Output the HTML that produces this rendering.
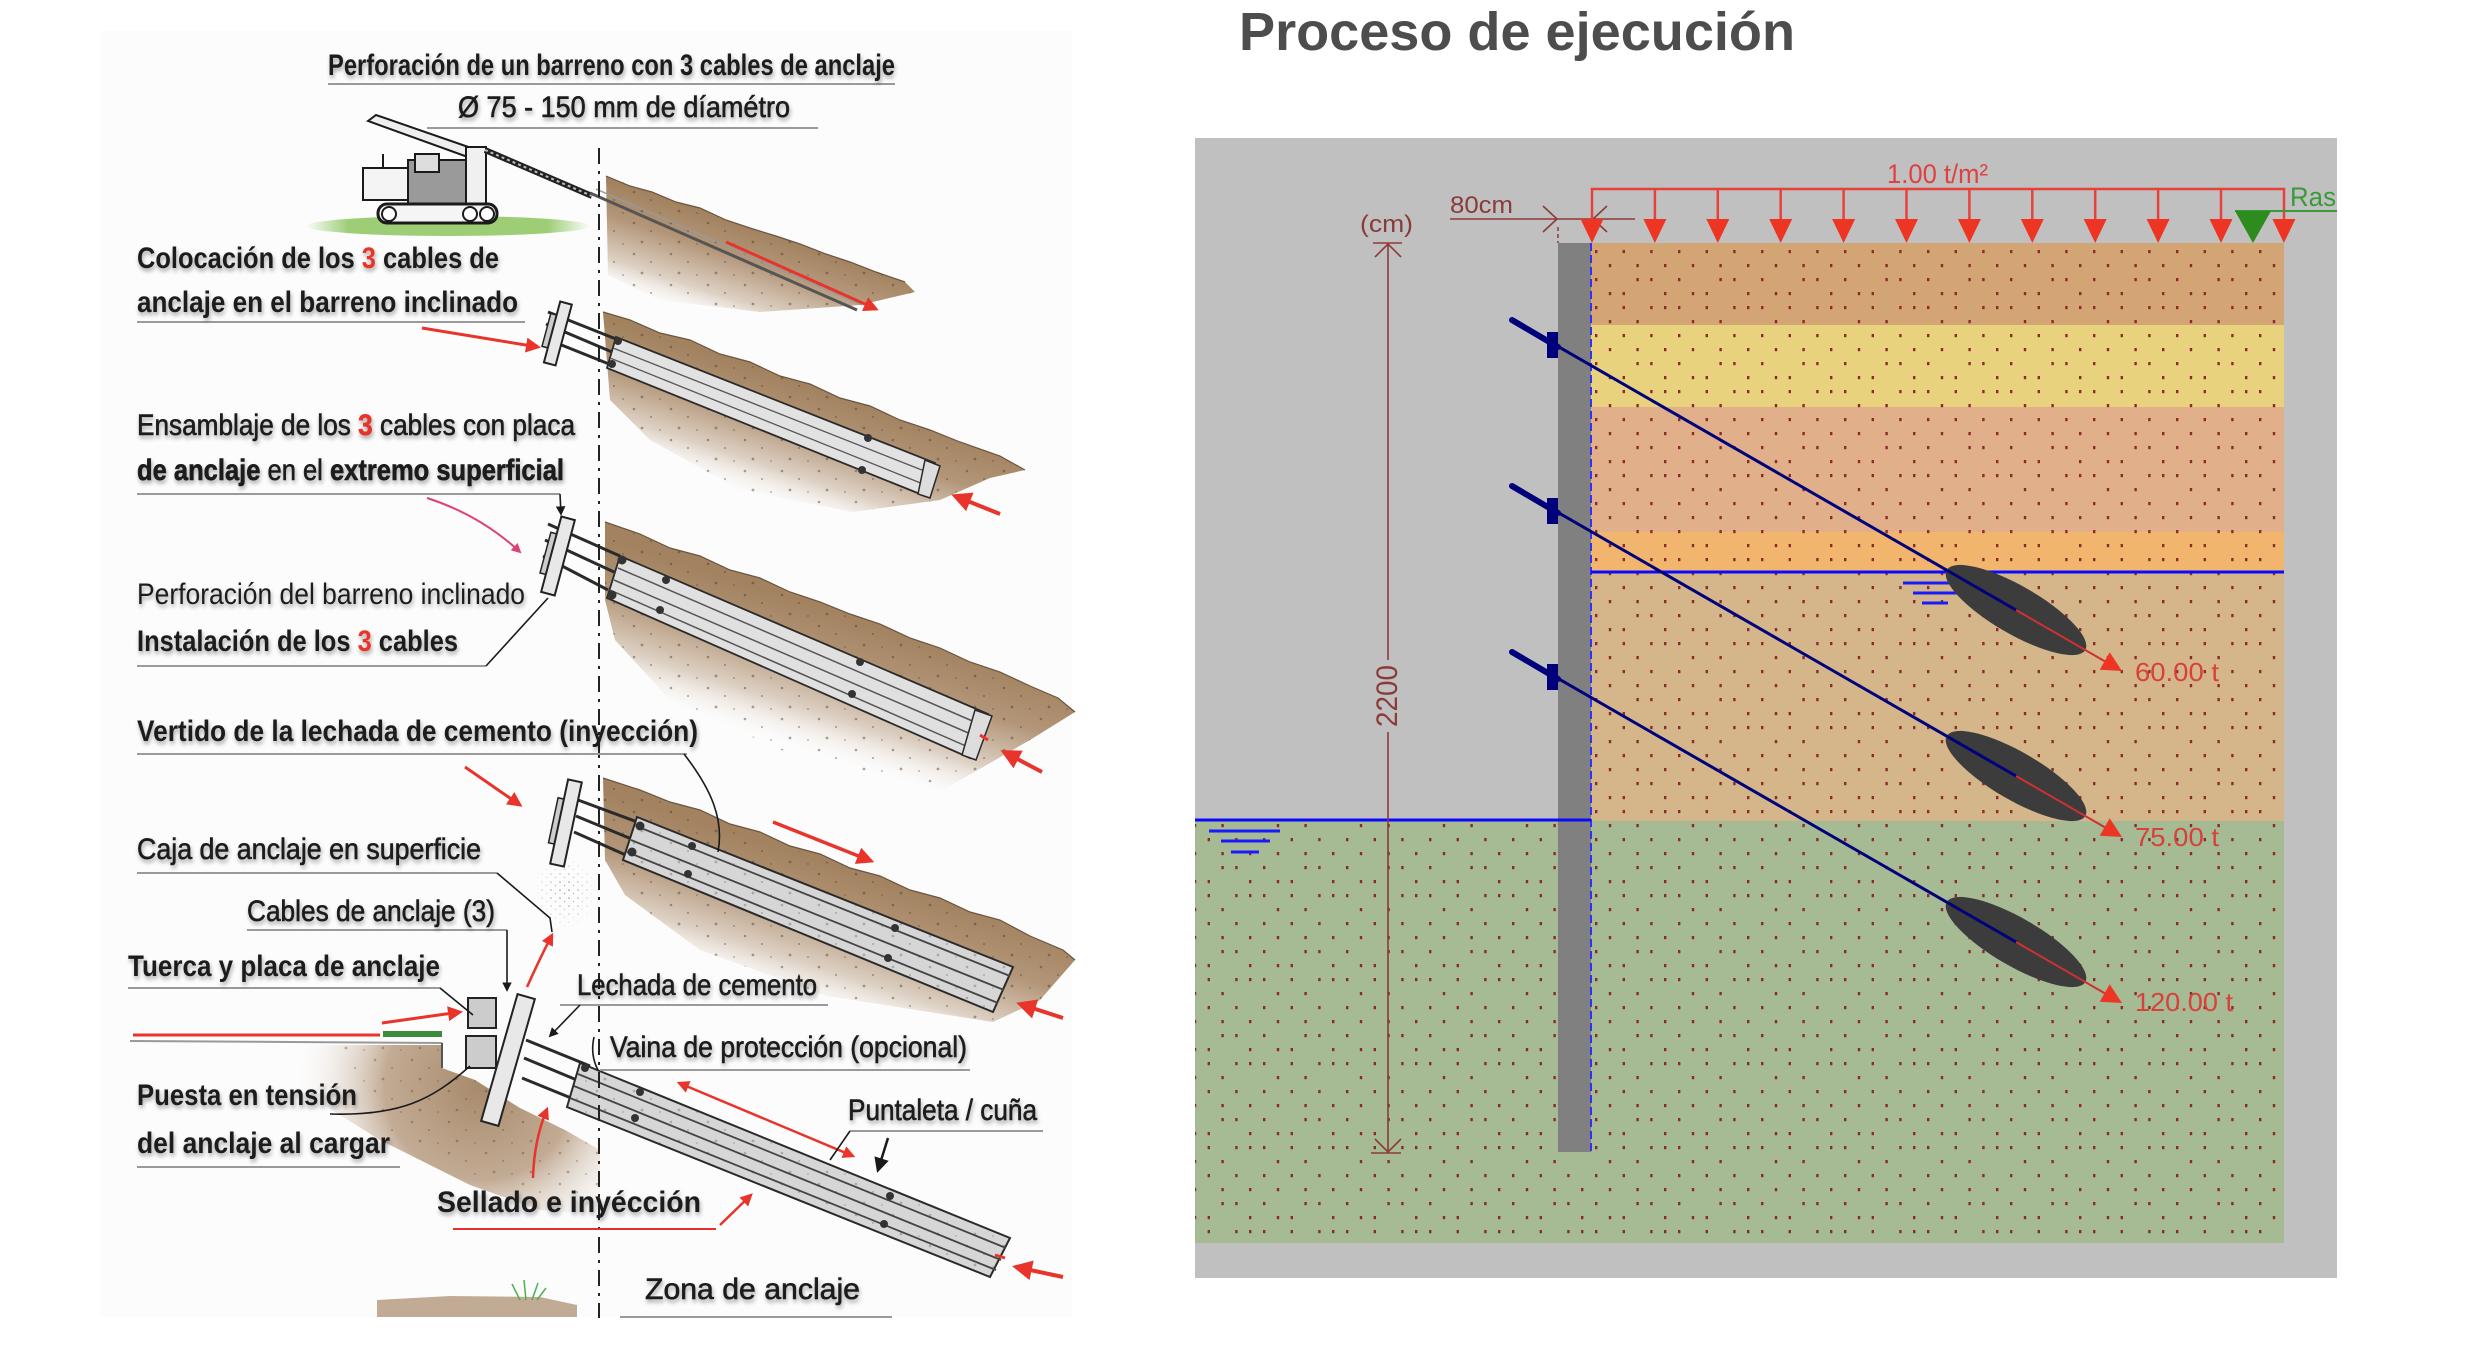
<!DOCTYPE html>
<html><head><meta charset="utf-8">
<style>
html,body{margin:0;padding:0;background:#fff;}
body{width:2476px;height:1358px;overflow:hidden;}
svg{display:block;}
.t{font-family:"Liberation Sans",sans-serif;fill:#1c1c1c;font-size:30px;}
.m{stroke:#1c1c1c;stroke-width:0.6;}
.r{font-family:"Liberation Sans",sans-serif;}
</style></head>
<body>
<svg width="2476" height="1358" viewBox="0 0 2476 1358" xmlns="http://www.w3.org/2000/svg">
<defs>
 <filter id="sh" x="-5%" y="-40%" width="110%" height="180%">
  <feGaussianBlur in="SourceAlpha" stdDeviation="2"/>
  <feOffset dx="1" dy="3" result="o"/>
  <feComponentTransfer><feFuncA type="linear" slope="0.35"/></feComponentTransfer>
  <feMerge><feMergeNode/><feMergeNode in="SourceGraphic"/></feMerge>
 </filter>
 <marker id="ah" viewBox="0 0 10 10" refX="8" refY="5" markerWidth="5" markerHeight="5" orient="auto-start-reverse"><path d="M0,0 L10,5 L0,10 z" fill="#E8342A"/></marker>
 <marker id="ahp" viewBox="0 0 10 10" refX="8" refY="5" markerWidth="5" markerHeight="5" orient="auto"><path d="M0,0 L10,5 L0,10 z" fill="#E0407A"/></marker>
 <marker id="ahk" viewBox="0 0 10 10" refX="8" refY="5" markerWidth="6" markerHeight="6" orient="auto"><path d="M0,0 L10,5 L0,10 z" fill="#1a1a1a"/></marker>
 <linearGradient id="g1" gradientUnits="userSpaceOnUse" x1="755" y1="229" x2="722" y2="330">
  <stop offset="0" stop-color="#A2825F"/><stop offset="0.3" stop-color="#B39679"/><stop offset="0.7" stop-color="#DED2C5"/><stop offset="1" stop-color="#fff" stop-opacity="0"/></linearGradient>
 <linearGradient id="g2" gradientUnits="userSpaceOnUse" x1="800" y1="383" x2="760" y2="505">
  <stop offset="0" stop-color="#A2825F"/><stop offset="0.35" stop-color="#B39679"/><stop offset="0.7" stop-color="#DED2C5"/><stop offset="1" stop-color="#fff" stop-opacity="0"/></linearGradient>
 <linearGradient id="g3" gradientUnits="userSpaceOnUse" x1="830" y1="610" x2="785" y2="750">
  <stop offset="0" stop-color="#A2825F"/><stop offset="0.35" stop-color="#B39679"/><stop offset="0.7" stop-color="#DED2C5"/><stop offset="1" stop-color="#fff" stop-opacity="0"/></linearGradient>
 <linearGradient id="g4" gradientUnits="userSpaceOnUse" x1="830" y1="863" x2="785" y2="1005">
  <stop offset="0" stop-color="#A2825F"/><stop offset="0.35" stop-color="#B39679"/><stop offset="0.7" stop-color="#DED2C5"/><stop offset="1" stop-color="#fff" stop-opacity="0"/></linearGradient>
 <radialGradient id="g5" gradientUnits="userSpaceOnUse" cx="480" cy="1085" r="190">
  <stop offset="0" stop-color="#A88A6C"/><stop offset="0.5" stop-color="#C2AB94"/><stop offset="1" stop-color="#fff" stop-opacity="0"/></radialGradient>
 <linearGradient id="gg" x1="0" y1="0" x2="1" y2="0">
  <stop offset="0" stop-color="#8CC65E" stop-opacity="0"/><stop offset="0.15" stop-color="#8CC65E"/><stop offset="0.85" stop-color="#8CC65E"/><stop offset="1" stop-color="#8CC65E" stop-opacity="0"/></linearGradient>
 <pattern id="spk" x="0" y="0" width="37" height="31" patternUnits="userSpaceOnUse">
  <circle cx="5" cy="6" r="1.3" fill="#4a3a2c"/><circle cx="22" cy="14" r="1" fill="#4a3a2c"/><circle cx="13" cy="25" r="1.4" fill="#4a3a2c"/><circle cx="31" cy="27" r="0.9" fill="#4a3a2c"/>
 </pattern>
 <pattern id="spr" x="0" y="0" width="9" height="8" patternUnits="userSpaceOnUse">
  <circle cx="2" cy="2" r="0.8" fill="#777"/><circle cx="6.5" cy="5.5" r="0.7" fill="#999"/>
 </pattern>
 <radialGradient id="sprm" cx="0.5" cy="0.5" r="0.5">
  <stop offset="0" stop-color="#fff" stop-opacity="1"/><stop offset="1" stop-color="#fff" stop-opacity="0"/></radialGradient>
 <mask id="sprmask"><ellipse cx="565" cy="892" rx="34" ry="38" fill="url(#sprm)"/></mask>
 <pattern id="dots" x="1595" y="250" width="83" height="84" patternUnits="userSpaceOnUse">
  <g fill="#8B2A2A">
  <rect x="0" y="0" width="2.4" height="3.2"/><rect x="27.6" y="0" width="2.4" height="3.2"/><rect x="55.2" y="0" width="2.4" height="3.2"/>
  <rect x="13.8" y="14" width="2.4" height="3.2"/><rect x="41.4" y="14" width="2.4" height="3.2"/><rect x="69" y="14" width="2.4" height="3.2"/>
  <rect x="0" y="28" width="2.4" height="3.2"/><rect x="41.4" y="28" width="2.4" height="3.2"/><rect x="55.2" y="28" width="2.4" height="3.2"/>
  <rect x="13.8" y="42" width="2.4" height="3.2"/><rect x="27.6" y="42" width="2.4" height="3.2"/><rect x="69" y="42" width="2.4" height="3.2"/>
  <rect x="0" y="56" width="2.4" height="3.2"/><rect x="27.6" y="56" width="2.4" height="3.2"/><rect x="55.2" y="56" width="2.4" height="3.2"/><rect x="69" y="56" width="2.4" height="3.2"/>
  <rect x="13.8" y="70" width="2.4" height="3.2"/><rect x="41.4" y="70" width="2.4" height="3.2"/>
  </g>
 </pattern>
</defs>

<!-- ================= LEFT ILLUSTRATION ================= -->
<rect x="100" y="31" width="972" height="1286" fill="#FCFCFC"/>

<!-- Stage 1 -->
<ellipse cx="448" cy="226" rx="142" ry="10" fill="url(#gg)" opacity="0.85"/>
<polygon points="606,176 630,186 652,192 676,202 700,208 726,220 750,228 776,236 800,244 826,254 850,262 876,272 905,282 915,292 860,305 760,312 660,300 608,275" fill="url(#g1)"/>
<polygon points="606,176 905,282 915,292 860,305 760,312 660,300 608,275" fill="url(#spk)" opacity="0.45"/>
<polyline points="606,176 630,186 652,192 676,202 700,208 726,220 750,228 776,236 800,244 826,254 850,262 876,272 905,282" fill="none" stroke="#6b5540" stroke-width="1.2"/>
<g stroke="#1a1a1a" stroke-width="2">
 <polygon points="368,121 376,115 480,151 476,160" fill="#eee"/>
 <rect x="363" y="168" width="47" height="32" fill="#f4f4f4"/>
 <rect x="408" y="160" width="60" height="44" fill="#9a9a9a"/>
 <rect x="415" y="154" width="24" height="18" fill="#ddd"/>
 <rect x="466" y="147" width="20" height="58" fill="#f0f0f0"/>
 <rect x="378" y="204" width="119" height="19" rx="9" fill="#f5f5f5" stroke-width="3"/>
 <circle cx="389" cy="214" r="7" fill="#fff"/><circle cx="470" cy="214" r="7" fill="#fff"/><circle cx="487" cy="214" r="7" fill="#fff"/>
 <line x1="383" y1="154" x2="383" y2="168"/>
</g>
<line x1="485" y1="150" x2="592" y2="196" stroke="#222" stroke-width="6"/>
<line x1="485" y1="150" x2="592" y2="196" stroke="#bbb" stroke-width="2" stroke-dasharray="3 3"/>
<line x1="590" y1="193" x2="857" y2="310" stroke="#555" stroke-width="3"/>
<line x1="596" y1="189" x2="862" y2="305" stroke="#999" stroke-width="1.5"/>
<line x1="726" y1="242" x2="876" y2="309" stroke="#E8342A" stroke-width="3" marker-end="url(#ah)"/>

<!-- Stage 2 -->
<polygon points="603,312 630,320 660,333 690,340 720,354 750,362 780,376 810,384 840,398 870,406 900,420 930,430 960,442 1000,456 1025,470 990,478 940,500 853,512 740,490 650,440 610,400" fill="url(#g2)"/>
<polygon points="603,312 1000,456 1025,470 990,478 940,500 853,512 740,490 650,440 610,400" fill="url(#spk)" opacity="0.45"/>
<polyline points="603,312 630,320 660,333 690,340 720,354 750,362 780,376 810,384 840,398 870,406 900,420 930,430 960,442 1000,456 1025,470" fill="none" stroke="#6b5540" stroke-width="1.2"/>
<g stroke="#2a2a2a">
 <line x1="548" y1="312" x2="616" y2="339" stroke-width="3"/><line x1="546" y1="324" x2="612" y2="352" stroke-width="3"/><line x1="544" y1="338" x2="609" y2="364" stroke-width="3"/>
 <polygon points="616,337 935,463 925,496 607,368" fill="#E2E2E2" stroke-width="1.8"/>
 <line x1="613" y1="348" x2="932" y2="474" stroke="#555" stroke-width="1.3"/>
 <line x1="610" y1="358" x2="928" y2="486" stroke="#555" stroke-width="1.3"/>
 <polygon points="925,460 940,466 930,498 918,494" fill="#ddd" stroke-width="1.5"/>
</g>
<g fill="#333"><circle cx="618" cy="341" r="4"/><circle cx="612" cy="364" r="4"/><circle cx="868" cy="438" r="4"/><circle cx="862" cy="470" r="4"/></g>
<g transform="rotate(15 558 333)"><rect x="546" y="316" width="10" height="34" fill="#ccc" stroke="#222" stroke-width="1.5"/><rect x="552" y="302" width="12" height="63" fill="#e8e8e8" stroke="#222" stroke-width="2"/></g>
<line x1="422" y1="328" x2="538" y2="347" stroke="#E8342A" stroke-width="3" marker-end="url(#ah)"/>
<line x1="1000" y1="514" x2="955" y2="496" stroke="#E8342A" stroke-width="4" marker-end="url(#ah)"/>

<!-- Stage 3 -->
<polygon points="605,522 640,534 670,548 700,556 730,570 760,578 790,592 820,602 850,614 880,624 910,638 940,648 970,662 1000,672 1030,686 1058,698 1075,712 1030,740 943,790 781,750 670,700 615,640 605,600" fill="url(#g3)"/>
<polygon points="605,522 1058,698 1075,712 1030,740 943,790 781,750 670,700 615,640 605,600" fill="url(#spk)" opacity="0.45"/>
<polyline points="605,522 640,534 670,548 700,556 730,570 760,578 790,592 820,602 850,614 880,624 910,638 940,648 970,662 1000,672 1030,686 1058,698 1075,712" fill="none" stroke="#6b5540" stroke-width="1.2"/>
<g stroke="#2a2a2a">
 <line x1="548" y1="524" x2="620" y2="556" stroke-width="3"/><line x1="545" y1="540" x2="614" y2="572" stroke-width="3"/><line x1="543" y1="556" x2="608" y2="590" stroke-width="3"/>
 <polygon points="620,556 988,714 970,758 607,598" fill="#E0E0E0" stroke-width="1.8"/>
 <line x1="618" y1="568" x2="984" y2="726" stroke="#555" stroke-width="1.5"/>
 <line x1="614" y1="580" x2="980" y2="738" stroke="#555" stroke-width="1.5"/>
 <line x1="610" y1="590" x2="975" y2="750" stroke="#555" stroke-width="1.5"/>
 <polygon points="975,710 992,716 976,760 962,755" fill="#ddd" stroke-width="1.5"/>
</g>
<g fill="#333"><circle cx="622" cy="560" r="4.5"/><circle cx="612" cy="595" r="4.5"/><circle cx="666" cy="580" r="4"/><circle cx="660" cy="610" r="4"/><circle cx="860" cy="662" r="4"/><circle cx="852" cy="694" r="4"/></g>
<line x1="980" y1="735" x2="988" y2="740" stroke="#E8342A" stroke-width="3"/>
<g transform="rotate(15 558 556)"><rect x="545" y="535" width="10" height="42" fill="#ccc" stroke="#222" stroke-width="1.5"/><rect x="551" y="517" width="14" height="78" fill="#e8e8e8" stroke="#222" stroke-width="2"/></g>
<path d="M427,498 Q480,515 520,552" fill="none" stroke="#E0407A" stroke-width="2" marker-end="url(#ahp)"/>
<line x1="1042" y1="772" x2="1004" y2="752" stroke="#E8342A" stroke-width="4" marker-end="url(#ah)"/>

<!-- Stage 4 -->
<polygon points="603,778 640,790 670,802 700,810 730,824 760,832 790,846 820,854 850,868 880,876 910,890 940,898 970,912 1000,920 1030,936 1063,950 1075,960 1040,1000 993,1022 827,996 700,950 625,895 605,860" fill="url(#g4)"/>
<polygon points="603,778 1063,950 1075,960 1040,1000 993,1022 827,996 700,950 625,895 605,860" fill="url(#spk)" opacity="0.45"/>
<polyline points="603,778 640,790 670,802 700,810 730,824 760,832 790,846 820,854 850,868 880,876 910,890 940,898 970,912 1000,920 1030,936 1063,950 1075,960" fill="none" stroke="#6b5540" stroke-width="1.2"/>
<rect x="525" y="850" width="80" height="85" fill="url(#spr)" mask="url(#sprmask)"/>
<g stroke="#2a2a2a">
 <line x1="578" y1="800" x2="640" y2="823" stroke-width="3"/><line x1="576" y1="816" x2="634" y2="840" stroke-width="3"/><line x1="574" y1="832" x2="628" y2="856" stroke-width="3"/>
 <polygon points="637,817 1013,967 993,1012 623,860" fill="#D6D6D6" stroke-width="2"/>
 <line x1="636" y1="826" x2="1010" y2="976" stroke="#444" stroke-width="1.8"/>
 <line x1="631" y1="840" x2="1004" y2="990" stroke="#444" stroke-width="1.8"/>
 <line x1="627" y1="852" x2="998" y2="1003" stroke="#444" stroke-width="1.8"/>
</g>
<polygon points="637,817 1013,967 993,1012 623,860" fill="url(#spk)" opacity="0.3"/>
<g fill="#333"><circle cx="640" cy="826" r="4.5"/><circle cx="632" cy="852" r="4.5"/><circle cx="692" cy="846" r="4"/><circle cx="688" cy="874" r="4"/><circle cx="895" cy="928" r="4"/><circle cx="888" cy="958" r="4"/></g>
<g transform="rotate(12 566 823)"><rect x="553" y="800" width="10" height="46" fill="#ccc" stroke="#222" stroke-width="1.5"/><rect x="559" y="780" width="14" height="86" fill="#e8e8e8" stroke="#222" stroke-width="2"/></g>
<line x1="465" y1="767" x2="520" y2="805" stroke="#E8342A" stroke-width="3" marker-end="url(#ah)"/>
<line x1="773" y1="822" x2="871" y2="861" stroke="#E8342A" stroke-width="3.5" marker-end="url(#ah)"/>
<line x1="1063" y1="1018" x2="1020" y2="1004" stroke="#E8342A" stroke-width="4" marker-end="url(#ah)"/>

<!-- Stage 5 -->
<polygon points="250,1045 442,1045 442,1068 475,1080 520,1108 565,1130 600,1150 600,1215 540,1210 470,1185 380,1140 300,1090" fill="url(#g5)"/>
<polygon points="330,1045 442,1045 442,1068 475,1080 520,1108 565,1130 600,1150 600,1200 540,1195 470,1175 390,1130" fill="url(#spk)" opacity="0.35"/>
<line x1="130" y1="1041" x2="442" y2="1043" stroke="#999" stroke-width="2"/>
<line x1="442" y1="1043" x2="442" y2="1068" stroke="#555" stroke-width="2"/>
<line x1="133" y1="1035" x2="380" y2="1035" stroke="#E8342A" stroke-width="3"/>
<rect x="383" y="1031" width="59" height="6" fill="#3D8B3D"/>
<g stroke="#2a2a2a">
 <line x1="526" y1="1040" x2="590" y2="1066" stroke-width="3"/><line x1="524" y1="1058" x2="584" y2="1083" stroke-width="3"/><line x1="522" y1="1078" x2="576" y2="1100" stroke-width="3"/>
 <polygon points="580,1063 1010,1238 990,1277 567,1107" fill="#D6D6D6" stroke-width="2"/>
 <line x1="578" y1="1074" x2="1006" y2="1248" stroke="#444" stroke-width="1.8"/>
 <line x1="574" y1="1086" x2="1001" y2="1260" stroke="#444" stroke-width="1.8"/>
 <line x1="570" y1="1098" x2="996" y2="1270" stroke="#444" stroke-width="1.8"/>
</g>
<polygon points="580,1063 1010,1238 990,1277 567,1107" fill="url(#spk)" opacity="0.3"/>
<g fill="#333"><circle cx="585" cy="1068" r="4"/><circle cx="640" cy="1092" r="4"/><circle cx="635" cy="1118" r="4"/><circle cx="890" cy="1196" r="4"/><circle cx="884" cy="1224" r="4"/></g>
<line x1="995" y1="1255" x2="1005" y2="1258" stroke="#E8342A" stroke-width="3"/>
<g stroke="#222" stroke-width="2"><rect x="468" y="998" width="28" height="30" fill="#ccc"/><rect x="466" y="1036" width="30" height="32" fill="#ccc"/></g>
<g transform="rotate(16 508 1060)"><rect x="499" y="994" width="18" height="132" fill="#e8e8e8" stroke="#222" stroke-width="2"/></g>
<line x1="382" y1="1023" x2="460" y2="1012" stroke="#E8342A" stroke-width="3" marker-end="url(#ah)"/>
<path d="M527,987 Q540,958 552,935" fill="none" stroke="#E8342A" stroke-width="2.5" marker-end="url(#ah)"/>
<path d="M533,1178 Q534,1140 547,1109" fill="none" stroke="#E8342A" stroke-width="2.5" marker-end="url(#ah)"/>
<line x1="720" y1="1225" x2="751" y2="1195" stroke="#E8342A" stroke-width="2.5" marker-end="url(#ah)"/>
<line x1="679" y1="1083" x2="853" y2="1156" stroke="#E8342A" stroke-width="2.5" marker-start="url(#ah)" marker-end="url(#ah)"/>
<line x1="1063" y1="1277" x2="1016" y2="1267" stroke="#E8342A" stroke-width="4" marker-end="url(#ah)"/>
<line x1="888" y1="1138" x2="878" y2="1170" stroke="#1a1a1a" stroke-width="2.5" marker-end="url(#ahk)"/>
<polygon points="377,1300 450,1296 540,1297 577,1305 577,1317 377,1317" fill="#B39679" opacity="0.8"/>
<g stroke="#4CAF50" stroke-width="1.5" fill="none"><path d="M520,1300 L512,1284"/><path d="M526,1300 L524,1280"/><path d="M532,1300 L538,1283"/><path d="M537,1300 L546,1288"/></g>

<!-- dash-dot axis -->
<line x1="599" y1="148" x2="599" y2="1318" stroke="#222" stroke-width="2" stroke-dasharray="16 7 3 7"/>

<!-- underlines & leaders -->
<g stroke="#9a9a9a" stroke-width="2" fill="none">
 <line x1="328" y1="84" x2="895" y2="84"/>
 <line x1="427" y1="128" x2="818" y2="128"/>
 <line x1="137" y1="322" x2="525" y2="322"/>
 <line x1="137" y1="494" x2="560" y2="494"/>
 <line x1="137" y1="666" x2="486" y2="666"/>
 <line x1="137" y1="754" x2="687" y2="754"/>
 <line x1="137" y1="873" x2="497" y2="873"/>
 <line x1="247" y1="930" x2="507" y2="930"/>
 <line x1="128" y1="988" x2="440" y2="988"/>
 <line x1="560" y1="1005" x2="828" y2="1005"/>
 <line x1="600" y1="1070" x2="970" y2="1070"/>
 <line x1="850" y1="1131" x2="1043" y2="1131"/>
 <line x1="137" y1="1167" x2="400" y2="1167"/>
 <line x1="620" y1="1317" x2="892" y2="1317"/>
</g>
<line x1="453" y1="1229" x2="716" y2="1229" stroke="#E53030" stroke-width="2"/>
<g stroke="#1a1a1a" stroke-width="1.6" fill="none">
 <line x1="560" y1="494" x2="561" y2="514" marker-end="url(#ahk)"/>
 <line x1="486" y1="666" x2="548" y2="598"/>
 <path d="M684,754 C712,790 724,820 718,852"/>
 <path d="M497,873 L550,918 L552,932"/>
 <line x1="507" y1="930" x2="507" y2="990" marker-end="url(#ahk)"/>
 <line x1="440" y1="988" x2="473" y2="1015"/>
 <line x1="580" y1="1005" x2="550" y2="1036" marker-end="url(#ahk)"/>
 <path d="M598,1070 Q590,1055 594,1037"/>
 <line x1="850" y1="1131" x2="830" y2="1160"/>
 <path d="M330,1114 C400,1116 432,1100 470,1066"/>
</g>

<!-- labels -->
<g filter="url(#sh)">
<text class="t" x="328" y="75" textLength="567" lengthAdjust="spacingAndGlyphs" font-weight="bold">Perforación de un barreno con 3 cables de anclaje</text>
<text class="t m" x="458" y="117" font-size="31" textLength="332" lengthAdjust="spacingAndGlyphs">Ø 75 - 150 mm de díamétro</text>
<text class="t" x="137" y="268" textLength="362" lengthAdjust="spacingAndGlyphs" font-weight="bold">Colocación de los <tspan fill="#E8342A">3</tspan> cables de</text>
<text class="t" x="137" y="312" textLength="381" lengthAdjust="spacingAndGlyphs" font-weight="bold">anclaje en el barreno inclinado</text>
<text class="t m" x="137" y="435" textLength="438" lengthAdjust="spacingAndGlyphs">Ensamblaje de los <tspan fill="#E8342A" stroke="#E8342A" font-weight="bold">3</tspan> cables con placa</text>
<text class="t m" x="137" y="480" textLength="427" lengthAdjust="spacingAndGlyphs"><tspan font-weight="bold">de anclaje</tspan> en el <tspan font-weight="bold">extremo superficial</tspan></text>
<text class="t" x="137" y="604" textLength="388" lengthAdjust="spacingAndGlyphs">Perforación del barreno inclinado</text>
<text class="t" x="137" y="651" textLength="321" lengthAdjust="spacingAndGlyphs" font-weight="bold">Instalación de los <tspan fill="#E8342A">3</tspan> cables</text>
<text class="t" x="137" y="741" textLength="561" lengthAdjust="spacingAndGlyphs" font-weight="bold">Vertido de la lechada de cemento (inyección)</text>
<text class="t m" x="137" y="859" textLength="344" lengthAdjust="spacingAndGlyphs">Caja de anclaje en superficie</text>
<text class="t m" x="247" y="921" textLength="248" lengthAdjust="spacingAndGlyphs">Cables de anclaje (3)</text>
<text class="t" x="128" y="976" textLength="312" lengthAdjust="spacingAndGlyphs" font-weight="bold">Tuerca y placa de anclaje</text>
<text class="t m" x="577" y="995" textLength="240" lengthAdjust="spacingAndGlyphs">Lechada de cemento</text>
<text class="t m" x="610" y="1057" textLength="357" lengthAdjust="spacingAndGlyphs">Vaina de protección (opcional)</text>
<text class="t m" x="848" y="1120" textLength="189" lengthAdjust="spacingAndGlyphs">Puntaleta / cuña</text>
<text class="t" x="137" y="1105" textLength="220" lengthAdjust="spacingAndGlyphs" font-weight="bold">Puesta en tensión</text>
<text class="t" x="137" y="1153" textLength="253" lengthAdjust="spacingAndGlyphs" font-weight="bold">del anclaje al cargar</text>
<text class="t" x="437" y="1212" textLength="264" lengthAdjust="spacingAndGlyphs" font-weight="bold">Sellado e inyécción</text>
<text class="t m" x="645" y="1299" textLength="215" lengthAdjust="spacingAndGlyphs">Zona de anclaje</text>
</g>

<!-- ================= RIGHT PANEL ================= -->
<text class="r" x="1239" y="50" font-size="54" font-weight="bold" fill="#4D4D4D" textLength="556" lengthAdjust="spacingAndGlyphs">Proceso de ejecución</text>

<rect x="1195" y="138" width="1142" height="1140" fill="#C0C0C0"/>
<rect x="1591" y="243" width="693" height="82" fill="#D3A574"/>
<rect x="1591" y="325" width="693" height="82" fill="#E8D27E"/>
<rect x="1591" y="407" width="693" height="125" fill="#E1B08A"/>
<rect x="1591" y="532" width="693" height="40" fill="#F2B56E"/>
<rect x="1591" y="572" width="693" height="250" fill="#D5B58A"/>
<rect x="1195" y="821" width="1089" height="422" fill="#A6BA93"/>
<rect x="1591" y="243" width="693" height="1000" fill="url(#dots)"/>
<rect x="1195" y="821" width="396" height="422" fill="url(#dots)"/>

<!-- wall -->
<rect x="1558" y="243" width="33" height="909" fill="#808080"/>
<line x1="1591" y1="243" x2="1591" y2="1152" stroke="#3030FF" stroke-width="2" stroke-dasharray="8 4"/>
<line x1="1558" y1="227" x2="1558" y2="243" stroke="#8B3A3A" stroke-width="1.5" stroke-dasharray="4 3"/>

<!-- water -->
<line x1="1591" y1="572" x2="2284" y2="572" stroke="#0A0AFF" stroke-width="3"/>
<line x1="1195" y1="820" x2="1591" y2="820" stroke="#0A0AFF" stroke-width="3"/>
<g stroke="#1A1AFF" stroke-width="3">
 <line x1="1903" y1="583" x2="1967" y2="583"/><line x1="1913" y1="593" x2="1957" y2="593"/><line x1="1922" y1="603" x2="1948" y2="603"/>
 <line x1="1209" y1="831" x2="1280" y2="831"/><line x1="1221" y1="841" x2="1270" y2="841"/><line x1="1231" y1="852" x2="1259" y2="852"/>
</g>

<!-- dimension -->
<g stroke="#8B3A3A" stroke-width="1.6" fill="none">
 <line x1="1388" y1="243" x2="1388" y2="660"/>
 <line x1="1388" y1="732" x2="1388" y2="1153"/>
 <line x1="1373" y1="243" x2="1402" y2="243"/>
 <polyline points="1375,257 1388,244 1401,257"/>
 <line x1="1371" y1="1153" x2="1401" y2="1153"/>
 <polyline points="1375,1139 1388,1152 1401,1139"/>
 <line x1="1450" y1="219" x2="1635" y2="219"/>
 <polyline points="1543,206 1557,219 1543,232"/>
 <polyline points="1607,206 1593,219 1607,232"/>
</g>
<text class="r" transform="translate(1397,696) rotate(-90)" text-anchor="middle" font-size="30" fill="#8B3A3A" textLength="62" lengthAdjust="spacingAndGlyphs">2200</text>
<text class="r" x="1360" y="232" font-size="24" fill="#8B3A3A" textLength="53" lengthAdjust="spacingAndGlyphs">(cm)</text>
<text class="r" x="1450" y="213" font-size="24" fill="#8B3A3A" textLength="63" lengthAdjust="spacingAndGlyphs">80cm</text>

<!-- surcharge load -->
<path d="M1592,222 V189 H2284 V222" fill="none" stroke="#E8403A" stroke-width="2.5"/>
<g stroke="#E8403A" stroke-width="2.5">
 <line x1="1654.9" y1="189" x2="1654.9" y2="222"/><line x1="1717.8" y1="189" x2="1717.8" y2="222"/><line x1="1780.7" y1="189" x2="1780.7" y2="222"/>
 <line x1="1843.6" y1="189" x2="1843.6" y2="222"/><line x1="1906.5" y1="189" x2="1906.5" y2="222"/><line x1="1969.4" y1="189" x2="1969.4" y2="222"/>
 <line x1="2032.3" y1="189" x2="2032.3" y2="222"/><line x1="2095.2" y1="189" x2="2095.2" y2="222"/><line x1="2158.1" y1="189" x2="2158.1" y2="222"/>
 <line x1="2221" y1="189" x2="2221" y2="222"/>
</g>
<g fill="#EE3524">
 <polygon points="1580.5,219 1603.5,219 1592,243"/><polygon points="1643.4,219 1666.4,219 1654.9,243"/><polygon points="1706.3,219 1729.3,219 1717.8,243"/>
 <polygon points="1769.2,219 1792.2,219 1780.7,243"/><polygon points="1832.1,219 1855.1,219 1843.6,243"/><polygon points="1895,219 1918,219 1906.5,243"/>
 <polygon points="1957.9,219 1980.9,219 1969.4,243"/><polygon points="2020.8,219 2043.8,219 2032.3,243"/><polygon points="2083.7,219 2106.7,219 2095.2,243"/>
 <polygon points="2146.6,219 2169.6,219 2158.1,243"/><polygon points="2209.5,219 2232.5,219 2221,243"/><polygon points="2272.4,219 2295.4,219 2283.9,243"/>
</g>
<text class="r" x="1887" y="183" font-size="27" fill="#E04040" textLength="101" lengthAdjust="spacingAndGlyphs">1.00 t/m²</text>
<line x1="2235" y1="211" x2="2337" y2="211" stroke="#3A9A3A" stroke-width="2"/>
<polygon points="2235,211 2271,211 2253,243" fill="#2E8B1E"/>
<text class="r" x="2290" y="206" font-size="27" fill="#3A9A3A" textLength="46" lengthAdjust="spacingAndGlyphs">Ras</text>

<!-- anchors -->
<g>
 <ellipse cx="2016" cy="610" rx="80" ry="24" transform="rotate(30 2016 610)" fill="#3C3C3C"/>
 <ellipse cx="2016" cy="776" rx="80" ry="24" transform="rotate(30 2016 776)" fill="#3C3C3C"/>
 <ellipse cx="2016" cy="942" rx="80" ry="24" transform="rotate(30 2016 942)" fill="#3C3C3C"/>
</g>
<g stroke="#00007A" stroke-linecap="round">
 <line x1="1512" y1="320" x2="2016" y2="610" stroke-width="3"/>
 <line x1="1512" y1="486" x2="2016" y2="776" stroke-width="3"/>
 <line x1="1512" y1="652" x2="2016" y2="942" stroke-width="3"/>
 <line x1="1512" y1="320" x2="1558" y2="347" stroke-width="6"/>
 <line x1="1512" y1="486" x2="1558" y2="513" stroke-width="6"/>
 <line x1="1512" y1="652" x2="1558" y2="679" stroke-width="6"/>
</g>
<g fill="#00007A">
 <rect x="1547" y="332" width="11" height="26"/>
 <rect x="1547" y="498" width="11" height="26"/>
 <rect x="1547" y="664" width="11" height="26"/>
</g>
<g stroke="#D03030" stroke-width="2">
 <line x1="2016" y1="610" x2="2106" y2="662"/>
 <line x1="2016" y1="776" x2="2106" y2="828"/>
 <line x1="2016" y1="942" x2="2106" y2="994"/>
</g>
<g fill="#EE3524">
 <polygon points="2122,671 2099.7,669.7 2109.7,652.3"/>
 <polygon points="2122,837 2099.7,835.7 2109.7,818.3"/>
 <polygon points="2122,1003 2099.7,1001.7 2109.7,984.3"/>
</g>
<text class="r" x="2135" y="681" font-size="26" fill="#D8403A" textLength="84" lengthAdjust="spacingAndGlyphs">60.00 t</text>
<text class="r" x="2135" y="846" font-size="26" fill="#D8403A" textLength="84" lengthAdjust="spacingAndGlyphs">75.00 t</text>
<text class="r" x="2135" y="1011" font-size="26" fill="#D8403A" textLength="98" lengthAdjust="spacingAndGlyphs">120.00 t</text>
</svg>
</body></html>
